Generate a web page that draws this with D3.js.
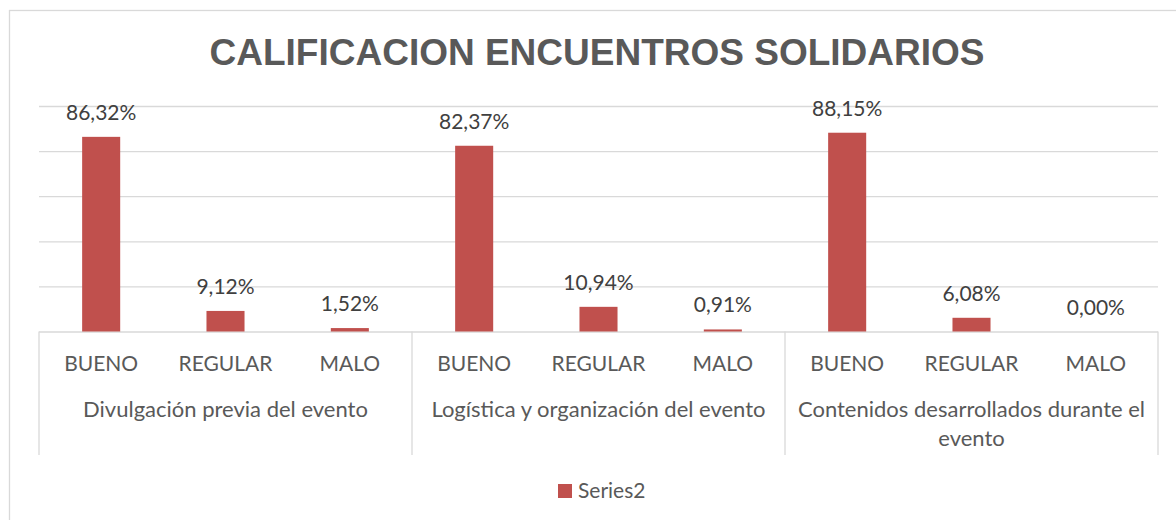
<!DOCTYPE html>
<meta charset="utf-8">
<style>
    body {
        margin: 0;
        background: #fff;
    }

    .grid line {
        stroke: #d9d9d9;
        stroke-width: 1.3;
    }

    .title {
        font: bold 37px 'Liberation Sans', Arial, sans-serif;
        fill: #595959;
    }

    .lbl {
        font-family: Lato, 'Noto Sans', sans-serif;
        font-size: 21px;
        fill: #595959;
    }

    .grpLbl {
        font-size: 22px;
    }

    .valLbl {
        fill: #404040;
    }
</style>

<body>
    <script src="https://cdnjs.cloudflare.com/ajax/libs/d3/7.8.5/d3.min.js"></script>
    <script>
        var width = 1176,
            height = 520

        var data = [
            { group: "Divulgación previa del evento", cat: "BUENO", value: 86.32 },
            { group: "Divulgación previa del evento", cat: "REGULAR", value: 9.12 },
            { group: "Divulgación previa del evento", cat: "MALO", value: 1.52 },
            { group: "Logística y organización del evento", cat: "BUENO", value: 82.37 },
            { group: "Logística y organización del evento", cat: "REGULAR", value: 10.94 },
            { group: "Logística y organización del evento", cat: "MALO", value: 0.91 },
            { group: "Contenidos desarrollados durante el evento", cat: "BUENO", value: 88.15 },
            { group: "Contenidos desarrollados durante el evento", cat: "REGULAR", value: 6.08 },
            { group: "Contenidos desarrollados durante el evento", cat: "MALO", value: 0.00 }
        ]

        // manual wrapping of the long group names, the way excel broke them
        var groupLines = {
            "Divulgación previa del evento": ["Divulgación previa del evento"],
            "Logística y organización del evento": ["Logística y organización del evento"],
            "Contenidos desarrollados durante el evento": ["Contenidos desarrollados durante el", "evento"]
        }

        var groups = Array.from(new Set(data.map(function(d) { return d.group })))
        var cats = ["BUENO", "REGULAR", "MALO"]

        var svg = d3.select("body").append("svg")
            .attr("width", width)
            .attr("height", height)

        // outer chart frame
        svg.append("rect")
            .attr("x", 9.5)
            .attr("y", 10.5)
            .attr("width", 1180)
            .attr("height", 520)
            .attr("fill", "none")
            .attr("stroke", "#d9d9d9")
            .attr("stroke-width", 1.3)

        var x0 = d3.scaleBand()
            .domain(groups)
            .range([39, 1158])

        var x1 = d3.scaleBand()
            .domain(cats)
            .range([0, x0.bandwidth()])
            .paddingInner(0.694)
            .paddingOuter(0.347)

        var y = d3.scaleLinear()
            .domain([0, 100])
            .range([331.5, 106])

        svg.append("text")
            .attr("class", "title")
            .attr("x", 597)
            .attr("y", 65)
            .attr("text-anchor", "middle")
            .text("CALIFICACION ENCUENTROS SOLIDARIOS")

        // gridlines (0 line doubles as the category axis)
        var grid = svg.append("g")
            .attr("class", "grid")
            .attr("transform", "translate(39,0)")
            .call(d3.axisLeft(y).tickValues([0, 20, 40, 60, 80, 100]).tickSize(-(1158 - 39)).tickFormat(""))
        grid.select(".domain").remove()

        // vertical separators of the multi-level axis
        var seps = [39].concat(groups.map(function(g) { return x0(g) + x0.bandwidth() }))
        svg.selectAll(".sep")
            .data(seps)
            .enter().append("line")
            .attr("class", "sep")
            .attr("x1", function(d) { return d })
            .attr("x2", function(d) { return d })
            .attr("y1", y(0))
            .attr("y2", 455)
            .attr("stroke", "#d9d9d9")
            .attr("stroke-width", 1.3)

        var fmt = d3.format(".2f")

        var bar = svg.selectAll(".bar")
            .data(data)
            .enter().append("g")
            .attr("class", "bar")
            .attr("transform", function(d) { return "translate(" + (x0(d.group) + x1(d.cat)) + ",0)" })

        bar.append("rect")
            .attr("x", 0)
            .attr("width", x1.bandwidth())
            .attr("y", function(d) { return y(d.value) })
            .attr("height", function(d) { return y(0) - y(d.value) })
            .attr("fill", "#c0504d")

        bar.append("text")
            .attr("class", "lbl valLbl")
            .attr("x", x1.bandwidth() / 2)
            .attr("y", function(d) { return y(d.value) - 17 })
            .attr("text-anchor", "middle")
            .text(function(d) { return fmt(d.value).replace(".", ",") + "%" })

        // category labels
        bar.append("text")
            .attr("class", "lbl")
            .attr("x", x1.bandwidth() / 2)
            .attr("y", 371)
            .attr("text-anchor", "middle")
            .text(function(d) { return d.cat })

        // group labels
        var gl = svg.selectAll(".grpLbl")
            .data(groups)
            .enter().append("text")
            .attr("class", "lbl grpLbl")
            .attr("text-anchor", "middle")
            .attr("y", 416.5)

        gl.selectAll("tspan")
            .data(function(g) {
                return groupLines[g].map(function(t) { return { g: g, t: t } })
            })
            .enter().append("tspan")
            .attr("x", function(d) { return x0(d.g) + x0.bandwidth() / 2 })
            .attr("dy", function(d, i) { return i ? 29 : 0 })
            .text(function(d) { return d.t })

        // legend
        var legend = svg.append("g").attr("transform", "translate(558,484)")
        legend.append("rect")
            .attr("width", 14)
            .attr("height", 14)
            .attr("fill", "#c0504d")
        legend.append("text")
            .attr("class", "lbl")
            .attr("x", 20)
            .attr("y", 14)
            .text("Series2")
    </script>
